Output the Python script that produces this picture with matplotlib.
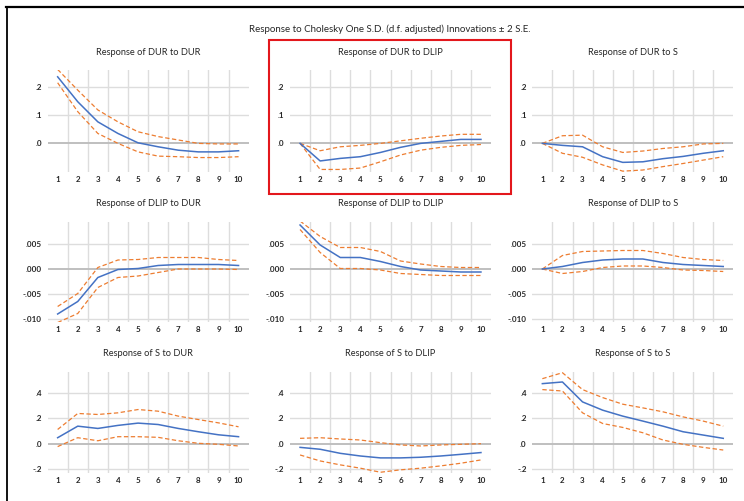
import matplotlib
matplotlib.use("Agg")
import matplotlib.pyplot as plt
from matplotlib.patches import Rectangle
from matplotlib.lines import Line2D

plt.rcParams['font.family'] = ['Lato', 'DejaVu Sans']

# ---------------- data ----------------
horizons = [1, 2, 3, 4, 5, 6, 7, 8, 9, 10]
variables = ["DUR", "DLIP", "S"]

# Response of DUR
dur_dur = [0.235, 0.147, 0.076, 0.035, 0.002, -0.012, -0.024, -0.030, -0.030, -0.026]
dur_dur_hi = [0.261, 0.188, 0.118, 0.076, 0.041, 0.024, 0.012, 0.000, -0.002, -0.002]
dur_dur_lo = [0.214, 0.112, 0.035, 0.000, -0.030, -0.045, -0.047, -0.050, -0.050, -0.047]

dur_dlip = [0.000, -0.062, -0.053, -0.047, -0.032, -0.014, 0.000, 0.007, 0.014, 0.014]
dur_dlip_hi = [0.000, -0.026, -0.012, -0.007, 0.000, 0.009, 0.018, 0.026, 0.032, 0.032]
dur_dlip_lo = [0.000, -0.092, -0.092, -0.087, -0.065, -0.041, -0.024, -0.014, -0.007, -0.004]

dur_s = [0.000, -0.007, -0.012, -0.047, -0.067, -0.065, -0.054, -0.046, -0.035, -0.026]
dur_s_hi = [0.000, 0.027, 0.029, -0.012, -0.032, -0.027, -0.018, -0.012, -0.002, 0.000]
dur_s_lo = [0.000, -0.035, -0.049, -0.076, -0.098, -0.094, -0.082, -0.071, -0.059, -0.047]

# Response of DLIP
dlip_dur = [-0.0090, -0.0065, -0.0017, -0.0001, 0.0001, 0.0007, 0.0009, 0.0009, 0.0009, 0.0007]
dlip_dur_hi = [-0.0075, -0.0049, 0.0003, 0.0018, 0.0019, 0.0023, 0.0023, 0.0023, 0.0019, 0.0017]
dlip_dur_lo = [-0.0107, -0.0089, -0.0037, -0.0017, -0.0014, -0.0007, 0.0000, 0.0000, 0.0000, -0.0001]

dlip_dlip = [0.0088, 0.0048, 0.0023, 0.0023, 0.0015, 0.0005, -0.0002, -0.0004, -0.0006, -0.0006]
dlip_dlip_hi = [0.0096, 0.0065, 0.0043, 0.0043, 0.0035, 0.0016, 0.0010, 0.0005, 0.0003, 0.0003]
dlip_dlip_lo = [0.0079, 0.0033, 0.0001, 0.0001, -0.0002, -0.0009, -0.0011, -0.0013, -0.0013, -0.0013]

dlip_s = [0.0000, 0.0005, 0.0013, 0.0018, 0.0020, 0.0020, 0.0013, 0.0009, 0.0007, 0.0005]
dlip_s_hi = [0.0000, 0.0027, 0.0035, 0.0036, 0.0037, 0.0037, 0.0031, 0.0023, 0.0019, 0.0017]
dlip_s_lo = [0.0000, -0.0009, -0.0005, 0.0003, 0.0006, 0.0006, 0.0003, -0.0002, -0.0003, -0.0005]

# Response of S
s_dur = [0.047, 0.138, 0.120, 0.144, 0.162, 0.151, 0.120, 0.094, 0.070, 0.055]
s_dur_hi = [0.112, 0.238, 0.230, 0.243, 0.269, 0.256, 0.217, 0.190, 0.164, 0.133]
s_dur_lo = [-0.023, 0.047, 0.023, 0.055, 0.055, 0.050, 0.023, 0.003, -0.005, -0.018]

s_dlip = [-0.029, -0.044, -0.076, -0.097, -0.112, -0.112, -0.107, -0.097, -0.084, -0.070]
s_dlip_hi = [0.042, 0.047, 0.037, 0.029, 0.008, -0.010, -0.018, -0.010, -0.005, 0.000]
s_dlip_lo = [-0.089, -0.136, -0.167, -0.193, -0.225, -0.206, -0.193, -0.175, -0.154, -0.128]

s_s = [0.473, 0.486, 0.329, 0.264, 0.217, 0.178, 0.138, 0.094, 0.068, 0.042]
s_s_hi = [0.512, 0.559, 0.426, 0.363, 0.311, 0.282, 0.251, 0.211, 0.178, 0.138]
s_s_lo = [0.426, 0.415, 0.243, 0.159, 0.128, 0.086, 0.029, -0.005, -0.029, -0.050]

# y-axis ticks and labels for each responding variable
dur_ticks = [0.0, 0.1, 0.2]
dur_ticklabels = [".0", ".1", ".2"]
dlip_ticks = [-0.010, -0.005, 0.0, 0.005]
dlip_ticklabels = ["-.010", "-.005", ".000", ".005"]
s_ticks = [-0.2, 0.0, 0.2, 0.4]
s_ticklabels = ["-.2", ".0", ".2", ".4"]

responses = {
    ("DUR", "DUR"): (dur_dur, dur_dur_hi, dur_dur_lo),
    ("DUR", "DLIP"): (dur_dlip, dur_dlip_hi, dur_dlip_lo),
    ("DUR", "S"): (dur_s, dur_s_hi, dur_s_lo),
    ("DLIP", "DUR"): (dlip_dur, dlip_dur_hi, dlip_dur_lo),
    ("DLIP", "DLIP"): (dlip_dlip, dlip_dlip_hi, dlip_dlip_lo),
    ("DLIP", "S"): (dlip_s, dlip_s_hi, dlip_s_lo),
    ("S", "DUR"): (s_dur, s_dur_hi, s_dur_lo),
    ("S", "DLIP"): (s_dlip, s_dlip_hi, s_dlip_lo),
    ("S", "S"): (s_s, s_s_hi, s_s_lo),
}
row_ticks = {"DUR": (dur_ticks, dur_ticklabels),
             "DLIP": (dlip_ticks, dlip_ticklabels),
             "S": (s_ticks, s_ticklabels)}

# ---------------- layout (pixels) ----------------
W, H = 744, 501
row_ylim = {"DUR": (-0.101, 0.259), "DLIP": (-0.0106, 0.00946), "S": (-0.231, 0.567)}
row_top = {"DUR": 70, "DLIP": 221.7, "S": 371.7}
row_bottom = {"DUR": 172, "DLIP": 322, "S": 473}
col_left = {"DUR": 47.6, "DLIP": 290.0, "S": 532.3}
plot_w = 201

BLUE = "#4472C4"
ORANGE = "#ED7D31"
GRID = "#DDDDDD"
ZERO = "#BFBFBF"
TXT = "#262626"

fig = plt.figure(figsize=(W / 100, H / 100), dpi=100)
fig.patch.set_facecolor("white")

for resp in variables:
    for shock in variables:
        l = col_left[shock]
        t = row_top[resp]
        b = row_bottom[resp]
        ax = fig.add_axes([l / W, 1 - b / H, plot_w / W, (b - t) / H])
        ax.set_facecolor("white")
        for sp in ax.spines.values():
            sp.set_visible(False)

        ticks, labels = row_ticks[resp]
        ax.set_xlim(0.5, 10.5)
        ax.set_ylim(*row_ylim[resp])

        # gridlines: vertical between categories, horizontal at ticks
        for xb in [h + 0.5 for h in horizons[:-1]]:
            ax.axvline(xb, color=GRID, lw=1.0, zorder=0)
        for yt in ticks:
            if yt == 0:
                ax.axhline(yt, color=ZERO, lw=1.4, zorder=1)
            else:
                ax.axhline(yt, color=GRID, lw=1.0, zorder=0)

        mid, hi, lo = responses[(resp, shock)]
        ax.plot(horizons, hi, color=ORANGE, lw=0.9, ls=(0, (3.5, 2)), zorder=3)
        ax.plot(horizons, lo, color=ORANGE, lw=0.9, ls=(0, (3.5, 2)), zorder=3)
        ax.plot(horizons, mid, color=BLUE, lw=1.1, zorder=4)

        ax.set_xticks(horizons)
        ax.set_xticklabels([str(h) for h in horizons])
        ax.set_yticks(ticks)
        ax.set_yticklabels(labels)
        ax.tick_params(axis="both", length=0, labelsize=5.8, colors=TXT)
        ax.tick_params(axis="y", pad=4)
        ax.tick_params(axis="x", pad=3)
        for lab in ax.get_xticklabels() + ax.get_yticklabels():
            lab.set_fontweight("bold")

        ax.set_title(f"Response of {resp} to {shock}", fontsize=6.7,
                     color=TXT, pad=11)

fig.text(390 / W, 1 - 29 / H,
         "Response to Cholesky One S.D. (d.f. adjusted) Innovations \u00b1 2 S.E.",
         ha="center", va="center", fontsize=7, color=TXT)

# outer frame (top and left edges)
fig.add_artist(Line2D([6 / W, 1.0], [1 - 7 / H, 1 - 7 / H],
                      transform=fig.transFigure, color="black", lw=1.6))
fig.add_artist(Line2D([6.7 / W, 6.7 / W], [0.0, 1 - 7 / H],
                      transform=fig.transFigure, color="black", lw=1.3))

# highlight box around the DUR-to-DLIP panel
fig.add_artist(Rectangle((268.5 / W, 1 - 194.5 / H), (510.5 - 268.5) / W,
                         (194.5 - 40.5) / H, transform=fig.transFigure,
                         fill=False, edgecolor="#E3171C", lw=1.5))

fig.savefig("out.png", dpi=100, facecolor="white")
